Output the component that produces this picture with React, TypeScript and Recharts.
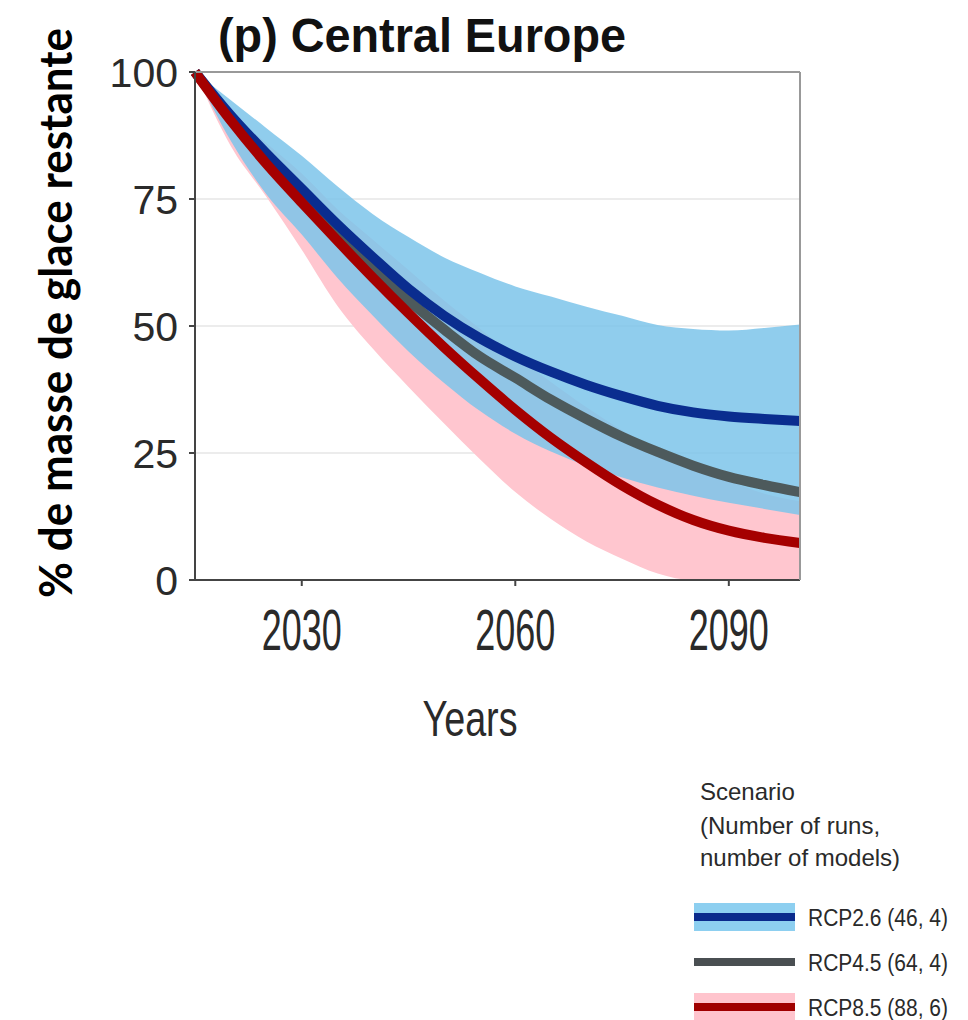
import { Area, CartesianGrid, ComposedChart, Line, XAxis, YAxis } from "recharts";

const years = [2015, 2020, 2025, 2030, 2035, 2040, 2045, 2050, 2055, 2060, 2065, 2070, 2075, 2080, 2085, 2090, 2095, 2100];

// RCP2.6
const rcp26Median = [100, 91.5, 84, 77, 70, 63.5, 57.3, 52, 47.6, 44, 41, 38.4, 36.2, 34.3, 33, 32.2, 31.7, 31.3];
const rcp26Low = [100, 86.5, 76, 68, 59.5, 52, 45, 38.8, 33.3, 28.8, 25.3, 22.5, 20.2, 18.2, 16.6, 15.2, 14, 12.8];
const rcp26High = [100, 94.5, 89, 83.5, 77.5, 72, 67.5, 63.5, 60.5, 57.8, 55.8, 53.8, 52, 50.2, 49.4, 49.1, 49.6, 50.3];

// RCP4.5
const rcp45Median = [100, 91, 83, 75.5, 68.5, 61.5, 55, 49.3, 44, 39.8, 35.5, 31.7, 28.2, 25.2, 22.5, 20.3, 18.7, 17.3];

// RCP8.5
const rcp85Median = [100, 90.5, 82, 74.3, 66.8, 59.5, 52.5, 45.8, 39.5, 33.5, 28, 23.1, 18.6, 14.8, 11.8, 9.7, 8.3, 7.3];
const rcp85Low = [100, 85.5, 75.5, 65, 54, 45.5, 38, 30.8, 23.8, 17.3, 12, 7.6, 4.2, 1.3, 0, 0, 0, 0];
const rcp85High = [100, 92, 86, 80, 73, 67, 61, 55, 49.5, 44, 39, 34, 29.5, 25.5, 22, 19.5, 17, 15.5];

const yTicks = [0, 25, 50, 75, 100];
const xTicks = [2030, 2060, 2090];

const legendItems = [
  { label: "RCP2.6 (46, 4)", line: "#0a2a8c", band: "#8dcff0" },
  { label: "RCP4.5 (64, 4)", line: "#4a4f52", band: null },
  { label: "RCP8.5 (88, 6)", line: "#a00000", band: "#ffc4cd" },
];

const data = years.map((year, i) => ({
  year,
  rcp26: rcp26Median[i],
  rcp45: rcp45Median[i],
  rcp85: rcp85Median[i],
  rcp26Band: [rcp26Low[i], rcp26High[i]],
  rcp85Band: [rcp85Low[i], rcp85High[i]],
}));

const font = "'Liberation Sans', Arial, sans-serif";

function XTick({ x, y, payload }: any) {
  return (
    <text
      x={x}
      y={y + 62}
      textAnchor="middle"
      fontFamily={font}
      fontSize={58}
      fill="#2a2a2a"
      textLength={80}
      lengthAdjust="spacingAndGlyphs"
    >
      {payload.value}
    </text>
  );
}

export default function App() {
  return (
    <div style={{ position: "absolute", left: 0, top: 0, width: 968, height: 1020, background: "#fff" }}>
      <ComposedChart
        width={968}
        height={700}
        data={data}
        margin={{ top: 72, right: 168, bottom: 60, left: 0 }}
      >
        <CartesianGrid vertical={false} stroke="#e6e6e6" strokeWidth={1.5} />
        <XAxis
          dataKey="year"
          type="number"
          domain={[2015, 2100]}
          ticks={xTicks}
          height={60}
          stroke="#444"
          strokeWidth={2}
          tickSize={6}
          tick={<XTick />}
        />
        <XAxis
          xAxisId="top"
          orientation="top"
          dataKey="year"
          type="number"
          domain={[2015, 2100]}
          ticks={xTicks}
          height={10}
          stroke="#999"
          strokeWidth={2}
          tickSize={5}
          mirror
          tick={false}
        />
        <YAxis
          domain={[0, 100]}
          ticks={yTicks}
          width={195}
          stroke="#444"
          strokeWidth={2}
          tickSize={6}
          tickMargin={11}
          tick={{ fill: "#2a2a2a", fontSize: 41, fontFamily: font }}
        />
        <YAxis
          yAxisId="right"
          orientation="right"
          domain={[0, 100]}
          ticks={yTicks}
          width={10}
          stroke="#999"
          strokeWidth={2}
          tickSize={5}
          mirror
          tick={false}
        />
        <Area
          type="monotone"
          dataKey="rcp85Band"
          stroke="none"
          fill="#ffc6cf"
          fillOpacity={1}
          isAnimationActive={false}
        />
        <Area
          type="monotone"
          dataKey="rcp26Band"
          stroke="none"
          fill="#7cc4ea"
          fillOpacity={0.85}
          isAnimationActive={false}
        />
        <Line type="monotone" dataKey="rcp45" stroke="#4d5a5c" strokeWidth={10} dot={false} isAnimationActive={false} />
        <Line type="monotone" dataKey="rcp26" stroke="#0a2d8f" strokeWidth={10} dot={false} isAnimationActive={false} />
        <Line type="monotone" dataKey="rcp85" stroke="#a50000" strokeWidth={10} dot={false} isAnimationActive={false} />
      </ComposedChart>

      <svg
        width={968}
        height={1020}
        style={{ position: "absolute", left: 0, top: 0, pointerEvents: "none" }}
      >
        <text
          x={422}
          y={52}
          textAnchor="middle"
          fontFamily={font}
          fontWeight="bold"
          fontSize={48}
          fill="#111"
          textLength={408}
          lengthAdjust="spacingAndGlyphs"
        >
          (p) Central Europe
        </text>
        <text
          transform="translate(72, 313) rotate(-90)"
          textAnchor="middle"
          fontFamily="Lato, 'Open Sans', sans-serif"
          fontWeight="bold"
          fontSize={46}
          fill="#000"
          textLength={570}
          lengthAdjust="spacingAndGlyphs"
        >
          % de masse de glace restante
        </text>
        <text
          x={470}
          y={736}
          textAnchor="middle"
          fontFamily={font}
          fontSize={50}
          fill="#2a2a2a"
          textLength={95}
          lengthAdjust="spacingAndGlyphs"
        >
          Years
        </text>

        <g fontFamily={font} fill="#2a2a2a" fontSize={24}>
          <text x={700} y={800}>Scenario</text>
          <text x={700} y={834}>(Number of runs,</text>
          <text x={700} y={866}>number of models)</text>
        </g>

        {legendItems.map((item, i) => {
          const cy = [917, 962, 1007][i];
          return (
            <g key={item.label}>
              {item.band && <rect x={694} y={cy - 14} width={101} height={28} fill={item.band} />}
              <rect x={694} y={cy - 4} width={101} height={8} fill={item.line} />
              <text
                x={808}
                y={cy + 9}
                fontFamily={font}
                fontSize={23}
                fill="#2a2a2a"
                textLength={140}
                lengthAdjust="spacingAndGlyphs"
              >
                {item.label}
              </text>
            </g>
          );
        })}
      </svg>
    </div>
  );
}
